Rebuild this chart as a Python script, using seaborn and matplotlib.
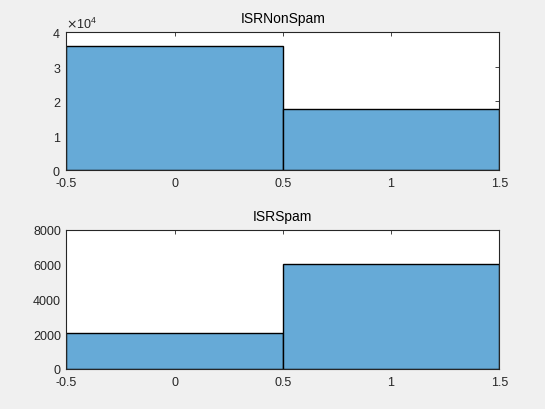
import matplotlib
matplotlib.use('Agg')
import matplotlib.pyplot as plt
import matplotlib.ticker as mticker
import seaborn as sns
import pandas as pd

# categorias (0 = não, 1 = sim) e contagens
categories = [0, 1]
nonspam_counts = [35900, 17730]
spam_counts = [2060, 6050]
bin_edges = [-0.5, 0.5, 1.5]
x_ticks = [-0.5, 0, 0.5, 1, 1.5]
x_tick_labels = ['-0.5', '0', '0.5', '1', '1.5']

sns.set_theme(style='white')
plt.rcParams['font.family'] = ['Liberation Sans', 'DejaVu Sans']
plt.rcParams['font.size'] = 9

bar_color = '#66aad7'
axis_color = '#262626'

fig = plt.figure(figsize=(5.45, 4.1), dpi=100, facecolor='#f0f0f0')
ax1 = fig.add_axes([0.122, 0.5829, 0.794, 0.3366])
ax2 = fig.add_axes([0.122, 0.0976, 0.794, 0.339])

df_nonspam = pd.DataFrame({'valor': categories, 'n': nonspam_counts})
df_spam = pd.DataFrame({'valor': categories, 'n': spam_counts})

sns.histplot(data=df_nonspam, x='valor', weights='n', bins=bin_edges, ax=ax1,
             color=bar_color, alpha=1, edgecolor='black', linewidth=1)
sns.histplot(data=df_spam, x='valor', weights='n', bins=bin_edges, ax=ax2,
             color=bar_color, alpha=1, edgecolor='black', linewidth=1)

ax1.set_ylim(0, 40000)
ax1.set_yticks([0, 10000, 20000, 30000, 40000])
fmt = mticker.ScalarFormatter(useMathText=True)
fmt.set_powerlimits((0, 0))
ax1.yaxis.set_major_formatter(fmt)
ax1.yaxis.get_offset_text().set_fontsize(9)
ax1.yaxis.get_offset_text().set_color(axis_color)

ax2.set_ylim(0, 8000)
ax2.set_yticks([0, 2000, 4000, 6000, 8000])

for ax, title in [(ax1, 'ISRNonSpam'), (ax2, 'ISRSpam')]:
    ax.set_xlim(-0.5, 1.5)
    ax.set_xticks(x_ticks)
    ax.set_xticklabels(x_tick_labels)
    ax.set_title(title, fontsize=10, color='black', pad=7)
    ax.set_xlabel('')
    ax.set_ylabel('')
    ax.set_facecolor('white')
    ax.tick_params(direction='in', top=True, right=True, length=3, width=0.6,
                   colors=axis_color, labelsize=9)
    ax.tick_params(axis='x', pad=5)
    ax.tick_params(axis='y', pad=4)
    for side in ax.spines.values():
        side.set_color(axis_color)
        side.set_linewidth(0.8)

plt.savefig('out.png', dpi=100, facecolor=fig.get_facecolor())
